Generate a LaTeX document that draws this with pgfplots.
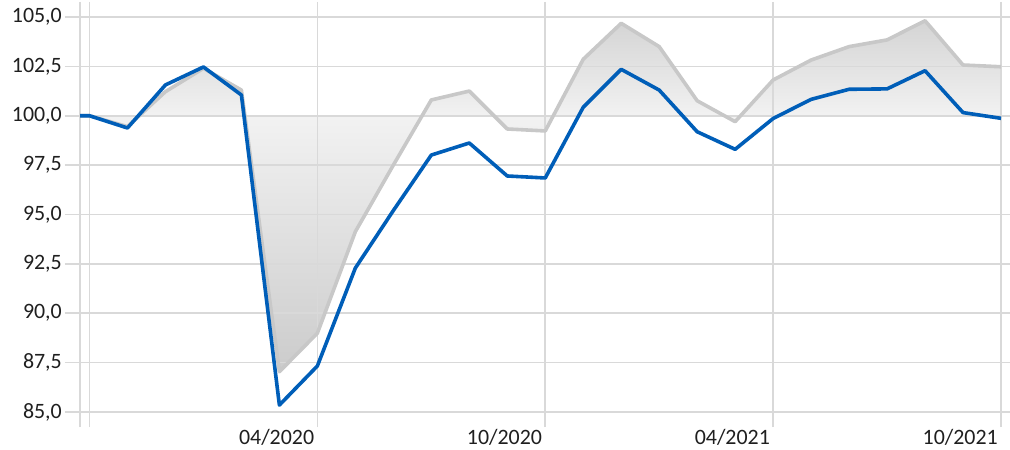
\documentclass[border=0pt]{standalone}
\usepackage{fontspec}
\setmainfont{Carlito}
\usepackage{pgfplots}
\pgfplotsset{compat=1.18}
\definecolor{gridgray}{HTML}{D9D9D9}
\definecolor{linegray}{HTML}{C8C8C8}
\definecolor{blueline}{HTML}{005EB8}
\definecolor{fillfar}{HTML}{D4D4D4}
\definecolor{fillnear}{HTML}{F2F2F2}
\begin{document}
\begin{tikzpicture}
\begin{axis}[
  set layers,
  scale only axis,
  width=921bp, height=395bp,
  at={(0,0)}, anchor=south west,
  xmin=-0.25, xmax=24,
  ymin=85, ymax=105,
  ytick={85,87.5,...,105},
  xtick={-0.25,0,6,12,18,24},
  xticklabels={,,04/2020,10/2020,04/2021,10/2021},
  grid=major,
  grid style={gridgray, line width=1.6bp},
  axis line style={gridgray, line width=1.6bp},
  tick style={gridgray, line width=1.6bp},
  tick align=outside,
  major tick length=15bp,
  tick label style={font=\fontsize{22}{26}\selectfont, text=black!88},
  /pgf/number format/assume math mode=true,
  yticklabel={\pgfmathprintnumber[fixed, fixed zerofill, precision=1, use comma]{\tick}},
  yticklabel style={anchor=east, inner sep=0pt, xshift=-3bp},
  xticklabel style={anchor=north east, inner sep=0pt, xshift=-3bp, yshift=-2bp},
  clip=false,
]
% area above 100 (gray series clamped at 100, with its crossings of 100)
\addplot[draw=none, top color=fillfar, bottom color=fillnear, on layer=axis background, forget plot] coordinates {
(-0.25,100) (0,100) (1,100) (1.311,100) (2,101.22) (3,102.4) (4,101.3) (4.091,100)
(8.758,100) (9,100.8) (10,101.25) (10.651,100) (12.212,100) (13,102.86) (14,104.68)
(15,103.5) (16,100.76) (16.717,100) (17.142,100) (18,101.81) (19,102.82) (20,103.5) (21,103.84)
(22,104.81) (23,102.57) (24,102.48) (24,100) (-0.25,100)};
% area below 100
\addplot[draw=none, top color=fillnear, bottom color=fillfar!96!black, on layer=axis background, forget plot] coordinates {
(-0.25,100) (0,100) (1,99.45) (1.311,100) (4.091,100) (5,87.04) (6,88.99)
(7,94.13) (8,97.5) (8.758,100) (10.651,100) (11,99.33) (12,99.23) (12.212,100)
(16.717,100) (17,99.7) (17.142,100) (24,100) (-0.25,100)};
\addplot[linegray, line width=3.6bp, line join=round] coordinates {
(-0.25,100.0) (0,100.0) (1,99.45) (2,101.22) (3,102.4) (4,101.3) (5,87.04) (6,88.99)
(7,94.13) (8,97.5) (9,100.8) (10,101.25) (11,99.33) (12,99.23) (13,102.86) (14,104.68)
(15,103.5) (16,100.76) (17,99.7) (18,101.81) (19,102.82) (20,103.5) (21,103.84)
(22,104.81) (23,102.57) (24,102.48)};
\addplot[blueline, line width=3.6bp, line join=round] coordinates {
(-0.25,100.0) (0,100.0) (1,99.38) (2,101.56) (3,102.47) (4,101.05) (5,85.35) (6,87.33)
(7,92.29) (8,95.2) (9,98.01) (10,98.62) (11,96.95) (12,96.85) (13,100.43) (14,102.35)
(15,101.3) (16,99.19) (17,98.3) (18,99.86) (19,100.83) (20,101.34) (21,101.36)
(22,102.28) (23,100.16) (24,99.87)};
\end{axis}
\pgfresetboundingbox
\path (-80bp,-38bp) rectangle (930bp,412bp);
\end{tikzpicture}
\end{document}
